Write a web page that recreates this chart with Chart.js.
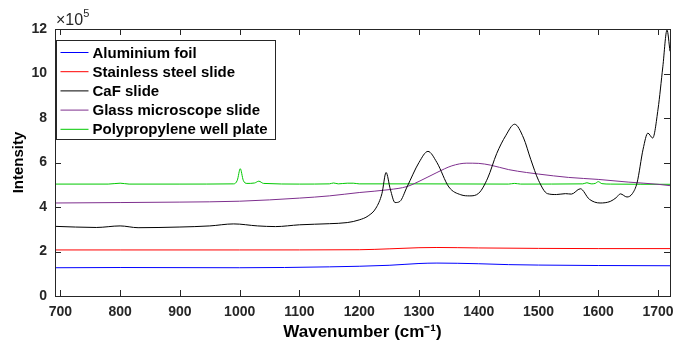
<!DOCTYPE html>
<html>
<head>
<meta charset="utf-8">
<script src="https://cdn.jsdelivr.net/npm/chart.js@4/dist/chart.umd.min.js"></script>
<style>
  html, body { margin: 0; padding: 0; background: #fff; }
  #wrap { width: 673px; height: 345px; }
</style>
</head>
<body>
<div id="wrap"><canvas id="myChart" width="673" height="345"></canvas></div>
<script>
// values in units of 1e5 counts
const aluX = [691, 800, 1000, 1150, 1250, 1300, 1330, 1400, 1450, 1500, 1600, 1720]
const aluY = [1.27, 1.28, 1.27, 1.31, 1.38, 1.46, 1.48, 1.45, 1.41, 1.39, 1.37, 1.36]

const steelX = [691, 800, 1000, 1200, 1250, 1300, 1330, 1400, 1500, 1600, 1720]
const steelY = [2.07, 2.07, 2.07, 2.08, 2.12, 2.17, 2.18, 2.16, 2.14, 2.13, 2.13]

const cafX = [691, 760, 800, 830, 900, 950, 990, 1030, 1060, 1100, 1150, 1180, 1200, 1215, 1228, 1238, 1245, 1252, 1260, 1268,
    1280, 1300, 1315, 1330, 1350, 1370, 1385, 1400, 1415, 1430, 1445, 1460, 1475, 1487, 1500, 1515, 1530, 1545, 1555, 1570,
    1585, 1603, 1620, 1630, 1637, 1648, 1657, 1665, 1675, 1683, 1691, 1700, 1708, 1715, 1720]
const cafY = [3.13, 3.08, 3.15, 3.07, 3.1, 3.15, 3.24, 3.15, 3.12, 3.2, 3.25, 3.3, 3.42, 3.6, 3.95, 4.6, 5.55, 4.8, 4.2, 4.25,
    4.9, 6.0, 6.5, 6.0, 4.9, 4.55, 4.5, 4.62, 5.3, 6.4, 7.2, 7.72, 7.1, 6.14, 5.2, 4.6, 4.56, 4.6, 4.58, 4.82,
    4.35, 4.18, 4.25, 4.42, 4.59, 4.45, 4.6, 5.1, 6.6, 7.32, 7.1, 8.4, 10.3, 11.95, 11.0]

const glassX = [691, 800, 900, 1000, 1100, 1150, 1200, 1250, 1280, 1300, 1330, 1355, 1380, 1400, 1420, 1450, 1480, 1500, 1550, 1600, 1650, 1700, 1720]
const glassY = [4.18, 4.2, 4.22, 4.26, 4.4, 4.5, 4.65, 4.78, 4.92, 5.15, 5.55, 5.85, 5.97, 5.96, 5.88, 5.68, 5.55, 5.48, 5.33, 5.24, 5.12, 5.02, 4.96]

const polyX = [691, 780, 800, 815, 900, 990, 996, 1001, 1006, 1012, 1025, 1032, 1040, 1100, 1150, 1157, 1165, 1180, 1190, 1200,
    1300, 1450, 1460, 1470, 1574, 1581, 1588, 1595, 1600, 1606, 1620, 1720]
const polyY = [5.03, 5.03, 5.07, 5.03, 5.03, 5.04, 5.2, 5.72, 5.2, 5.06, 5.08, 5.16, 5.06, 5.03, 5.04, 5.08, 5.04, 5.07, 5.07, 5.04,
    5.04, 5.03, 5.06, 5.03, 5.04, 5.09, 5.04, 5.06, 5.14, 5.05, 5.03, 5.02]

const labels = ['Aluminium foil', 'Stainless steel slide', 'CaF slide', 'Glass microscope slide', 'Polypropylene well plate']
const colors = ['#0000ff', '#ff0000', '#000000', '#7e2f8e', '#00c800']
const xTicks = [700, 800, 900, 1000, 1100, 1200, 1300, 1400, 1500, 1600, 1700]
const yTicks = [0, 2, 4, 6, 8, 10, 12]

const FONT = 'Liberation Sans, Arial, Helvetica, sans-serif'

function pts(xs, ys) {
    return xs.map((x, i) => ({ x: x, y: ys[i] }))
}

const series = [pts(aluX, aluY), pts(steelX, steelY), pts(cafX, cafY), pts(glassX, glassY), pts(polyX, polyY)]

// matlab style box, inward ticks, legend and exponent
const matlabAxes = {
    id: 'matlabAxes',
    afterDraw(chart) {
        const ctx = chart.ctx
        const a = chart.chartArea
        const xs = chart.scales.x
        const ys = chart.scales.y
        ctx.save()
        ctx.strokeStyle = '#262626'
        ctx.lineWidth = 1
        ctx.strokeRect(Math.round(a.left) + 0.5, Math.round(a.top) + 0.5, Math.round(a.right - a.left), Math.round(a.bottom - a.top))
        ctx.beginPath()
        xTicks.forEach(v => {
            const px = Math.round(xs.getPixelForValue(v)) + 0.5
            ctx.moveTo(px, a.bottom); ctx.lineTo(px, a.bottom - 6)
            ctx.moveTo(px, a.top); ctx.lineTo(px, a.top + 6)
        })
        yTicks.forEach(v => {
            const py = Math.round(ys.getPixelForValue(v)) + 0.5
            ctx.moveTo(a.left, py); ctx.lineTo(a.left + 6, py)
            ctx.moveTo(a.right, py); ctx.lineTo(a.right - 6, py)
        })
        ctx.stroke()

        // exponent
        ctx.fillStyle = '#262626'
        ctx.textBaseline = 'alphabetic'
        ctx.textAlign = 'left'
        ctx.font = '16px ' + FONT
        ctx.fillText('\u00d710', a.left + 1, 25)
        const w = ctx.measureText('\u00d710').width
        ctx.font = '11px ' + FONT
        ctx.fillText('5', a.left + 1 + w, 17)

        // legend
        const bx = a.left + 1.5, by = 40.5, bw = 219, bh = 99
        ctx.fillStyle = '#fff'
        ctx.fillRect(bx, by, bw, bh)
        ctx.strokeStyle = '#262626'
        ctx.strokeRect(bx, by, bw, bh)
        ctx.font = 'bold 15px ' + FONT
        ctx.textBaseline = 'middle'
        chart.data.datasets.forEach((ds, i) => {
            const cy = 52.5 + i * 19.2
            ctx.strokeStyle = ds.borderColor
            ctx.beginPath()
            ctx.moveTo(bx + 4, cy); ctx.lineTo(bx + 32, cy)
            ctx.stroke()
            ctx.fillStyle = '#000'
            ctx.fillText(ds.label, bx + 36, cy + 1)
        })
        ctx.restore()
    }
}

new Chart(document.getElementById('myChart'), {
    type: 'line',
    data: {
        datasets: series.map((d, i) => ({
            label: labels[i],
            data: d,
            borderColor: colors[i],
            backgroundColor: colors[i],
            borderWidth: 1,
            pointRadius: 0,
            cubicInterpolationMode: 'monotone',
            fill: false
        }))
    },
    options: {
        responsive: false,
        animation: false,
        layout: { padding: { top: 29, right: 3, left: 0, bottom: 0 } },
        plugins: { legend: { display: false }, tooltip: { enabled: false } },
        scales: {
            x: {
                type: 'linear',
                min: 691,
                max: 1720,
                afterBuildTicks: s => { s.ticks = xTicks.map(v => ({ value: v })) },
                afterFit: s => { s.height = 49; s.paddingRight = 0; s.paddingLeft = 0 },
                grid: { display: false, drawTicks: false, tickLength: 0 },
                border: { display: false },
                ticks: { color: '#262626', padding: 8, maxRotation: 0, callback: v => String(v), font: { family: FONT, size: 14, weight: 'bold' } },
                title: { display: true, text: 'Wavenumber (cm\u207b\u00b9)', color: '#000', padding: { top: 0, bottom: 2 }, font: { family: FONT, size: 17, weight: 'bold' } }
            },
            y: {
                min: 0,
                max: 12,
                afterBuildTicks: s => { s.ticks = yTicks.map(v => ({ value: v })) },
                afterFit: s => { s.width = 55 },
                grid: { display: false, drawTicks: false, tickLength: 0 },
                border: { display: false },
                ticks: { color: '#262626', padding: 8, callback: v => String(v), font: { family: FONT, size: 14, weight: 'bold' } },
                title: { display: true, text: 'Intensity', color: '#000', padding: { top: 10, bottom: 0 }, font: { family: FONT, size: 15, weight: 'bold' } }
            }
        }
    },
    plugins: [matlabAxes]
})
</script>
</body>
</html>
